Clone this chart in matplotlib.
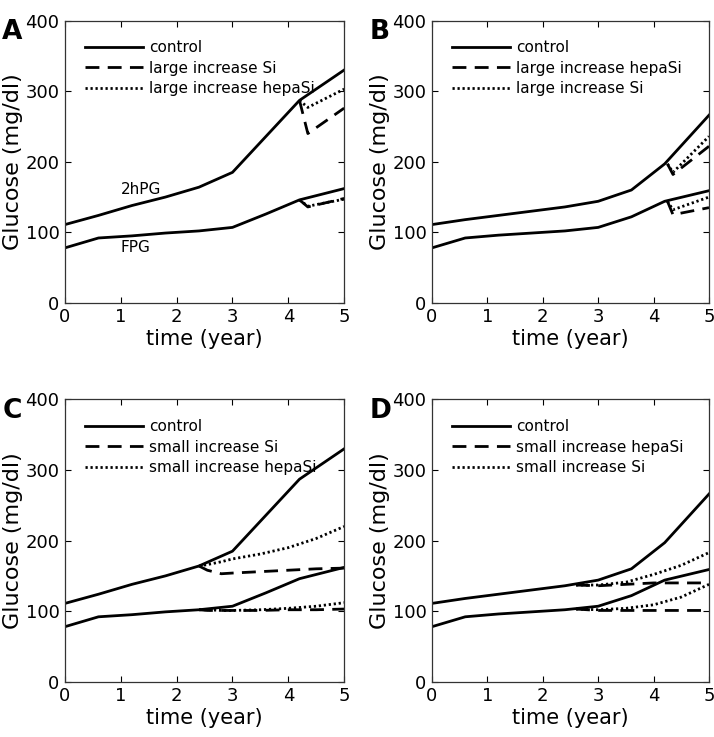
import matplotlib.pyplot as plt

plt.rcParams["font.family"] = ["DejaVu Sans"]

# time points of the control simulation (year)
t_ctrl = [0, 0.6, 1.2, 1.8, 2.4, 3.0, 3.6, 4.2, 5.0]

# control curves, panels A/C (fast progression) and B/D (slow progression)
ogtt_ac = [111, 124, 138, 150, 164, 185, 236, 287, 330]
fpg_ac = [78, 92, 95, 99, 102, 107, 126, 146, 162]
ogtt_bd = [111, 118, 124, 130, 136, 144, 160, 197, 266]
fpg_bd = [78, 92, 96, 99, 102, 107, 122, 144, 159]

# panel A : large increase, start at 4.2 y
tA = [4.2, 4.35, 5.0]
A_ogtt_dash = [287, 240, 276]
A_ogtt_dot = [287, 277, 303]
A_fpg_dash = [146, 136, 148]
A_fpg_dot = [146, 137, 147]

# panel B
tB = [4.25, 4.35, 5.0]
B_ogtt_dash = [197, 182, 222]
B_ogtt_dot = [197, 185, 236]
B_fpg_dash = [144, 125, 135]
B_fpg_dot = [144, 132, 150]

# panel C : small increase, start at 2.4 y
tC = [2.4, 2.55, 2.8, 3.0, 3.5, 4.0, 4.5, 5.0]
C_ogtt_dash = [164, 158, 153, 154, 156, 158, 160, 161]
C_ogtt_dot = [164, 166, 170, 174, 181, 190, 203, 220]
C_fpg_dash = [102, 101, 101, 101, 101, 102, 102, 103]
C_fpg_dot = [102, 102, 101, 101, 102, 104, 107, 112]

# panel D
tD = [2.6, 3.0, 3.5, 4.0, 4.5, 5.0]
D_ogtt_dash = [137, 136, 138, 140, 140, 140]
D_ogtt_dot = [137, 137, 141, 152, 165, 183]
D_fpg_dash = [103, 101, 101, 101, 101, 101]
D_fpg_dot = [103, 102, 104, 109, 120, 138]

panels = [
    ("A", [0.091, 0.589, 0.391, 0.383], ogtt_ac, fpg_ac, tA,
     A_ogtt_dash, A_ogtt_dot, A_fpg_dash, A_fpg_dot,
     ["control", "large increase Si", "large increase hepaSi"]),
    ("B", [0.605, 0.589, 0.388, 0.383], ogtt_bd, fpg_bd, tB,
     B_ogtt_dash, B_ogtt_dot, B_fpg_dash, B_fpg_dot,
     ["control", "large increase hepaSi", "large increase Si"]),
    ("C", [0.091, 0.075, 0.391, 0.383], ogtt_ac, fpg_ac, tC,
     C_ogtt_dash, C_ogtt_dot, C_fpg_dash, C_fpg_dot,
     ["control", "small increase Si", "small increase hepaSi"]),
    ("D", [0.605, 0.075, 0.388, 0.383], ogtt_bd, fpg_bd, tD,
     D_ogtt_dash, D_ogtt_dot, D_fpg_dash, D_fpg_dot,
     ["control", "small increase hepaSi", "small increase Si"]),
]

fig = plt.figure(figsize=(7.14, 7.37), dpi=100)

for (letter, pos, ogtt, fpg, t_i, og_dash, og_dot, fp_dash, fp_dot,
     labels) in panels:
    ax = fig.add_axes(pos)
    lw = 2.0
    l1, = ax.plot(t_ctrl, ogtt, color="black", lw=lw)
    ax.plot(t_ctrl, fpg, color="black", lw=lw)
    l2, = ax.plot(t_i, og_dash, color="black", lw=lw, ls=(0, (5, 3)))
    ax.plot(t_i, fp_dash, color="black", lw=lw, ls=(0, (5, 3)))
    l3, = ax.plot(t_i, og_dot, color="black", lw=lw, ls=(0, (0.8, 1.0)))
    ax.plot(t_i, fp_dot, color="black", lw=lw, ls=(0, (0.8, 1.0)))

    ax.set_xlim(0, 5)
    ax.set_ylim(0, 400)
    ax.set_xticks([0, 1, 2, 3, 4, 5])
    ax.set_yticks([0, 100, 200, 300, 400])
    ax.tick_params(direction="in", top=True, right=True, labelsize=13,
                   length=4, width=0.8, pad=4)
    for s in ax.spines.values():
        s.set_linewidth(0.9)
        s.set_color("#333333")
    ax.set_xlabel("time (year)", fontsize=15, labelpad=2)
    ax.set_ylabel("Glucose (mg/dl)", fontsize=16, labelpad=2)

    ax.legend([l1, l2, l3], labels, loc="upper left", frameon=False,
              fontsize=11, handlelength=3.8, handletextpad=0.4,
              labelspacing=0.35, borderaxespad=0.9, borderpad=0.4)

    if letter == "A":
        ax.text(1.0, 160, "2hPG", fontsize=11, va="center")
        ax.text(1.0, 78, "FPG", fontsize=11, va="center")

    fig.text(pos[0] - 0.088, pos[1] + pos[3] + 0.002, letter,
             fontsize=19, fontweight="bold", va="top", ha="left")

fig.savefig("out.png", dpi=100)
